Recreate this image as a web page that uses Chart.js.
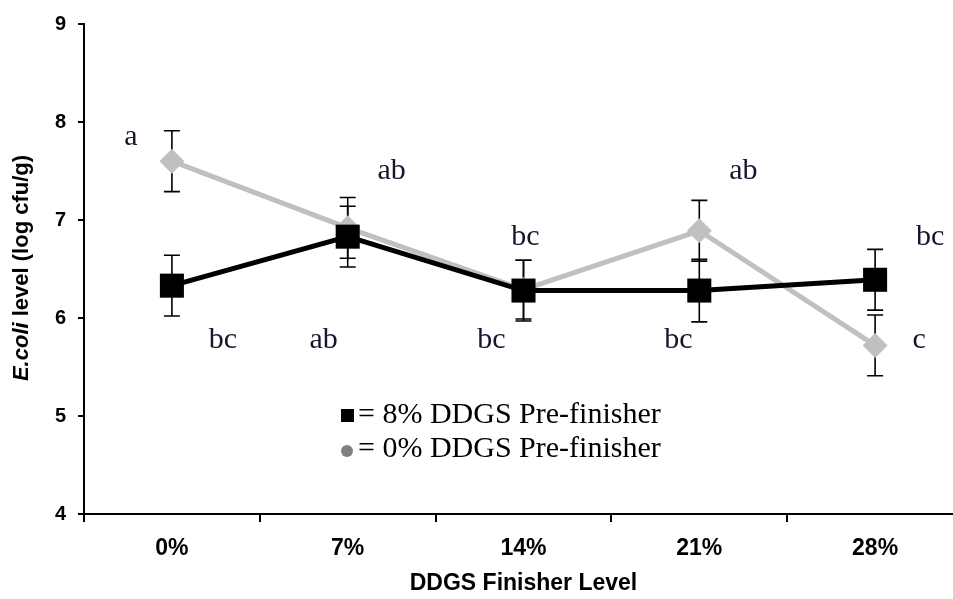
<!DOCTYPE html>
<html>
<head>
<meta charset="utf-8">
<script src="https://cdn.jsdelivr.net/npm/chart.js@4.4.1/dist/chart.umd.min.js"></script>
<style>
  html, body { margin: 0; padding: 0; background: #fff; overflow: hidden; }
  #wrap { width: 963px; height: 599px; }
</style>
</head>
<body>
<div id="wrap"><canvas id="chart" width="963" height="599"></canvas></div>
<script>
// DDGS finisher level on the x axis, E. coli counts (log cfu/g) on the y axis
const categories = ['0%', '7%', '14%', '21%', '28%'];
const yTicks = [4, 5, 6, 7, 8, 9];

// 8% DDGS pre-finisher group
const pre8Means  = [6.33, 6.83, 6.28, 6.28, 6.39];
const pre8Errors = [0.31, 0.31, 0.31, 0.32, 0.31];
const pre8Letters = ['bc', 'ab', 'bc', 'bc', 'bc'];

// 0% DDGS pre-finisher group
const pre0Means  = [7.60, 6.92, 6.29, 6.89, 5.72];
const pre0Errors = [0.31, 0.31, 0.30, 0.31, 0.31];
const pre0Letters = ['a', 'ab', 'bc', 'ab', 'c'];

const SANS = "'Liberation Sans', Arial, sans-serif";
const SERIF = "'Liberation Serif', 'Times New Roman', serif";
const LETTER_COLOR = '#15152e';

// where each significance letter sits: horizontal shift in px from the category centre, and height in axis units
const pre8LetterPos = [[51, 5.77], [-24, 5.77], [-32, 5.77], [-21, 5.77], [55, 6.83]];
const pre0LetterPos = [[-41, 7.85], [44, 7.50], [2, 6.83], [44, 7.50], [44, 5.77]];

const errorBarPlugin = {
  id: 'errorBars',
  beforeDatasetsDraw(chart) {
    const { ctx, scales: { x, y } } = chart;
    const groups = [[pre8Means, pre8Errors], [pre0Means, pre0Errors]];
    ctx.save();
    ctx.strokeStyle = '#000';
    ctx.lineWidth = 1.6;
    const cap = 8;
    groups.forEach(([means, errs]) => {
      means.forEach((m, i) => {
        const px = x.getPixelForValue(i);
        const top = y.getPixelForValue(m + errs[i]);
        const bot = y.getPixelForValue(m - errs[i]);
        ctx.beginPath();
        ctx.moveTo(px, top); ctx.lineTo(px, bot);
        ctx.moveTo(px - cap, top); ctx.lineTo(px + cap, top);
        ctx.moveTo(px - cap, bot); ctx.lineTo(px + cap, bot);
        ctx.stroke();
      });
    });
    ctx.restore();
  }
};

const annotationPlugin = {
  id: 'annotations',
  afterDraw(chart) {
    const { ctx, scales: { x, y } } = chart;
    ctx.save();
    // significance letters
    ctx.font = `30px ${SERIF}`;
    ctx.fillStyle = LETTER_COLOR;
    ctx.textAlign = 'center';
    ctx.textBaseline = 'middle';
    const put = (letters, pos) => letters.forEach((t, i) => {
      ctx.fillText(t, x.getPixelForValue(i) + pos[i][0], y.getPixelForValue(pos[i][1]));
    });
    put(pre8Letters, pre8LetterPos);
    put(pre0Letters, pre0LetterPos);

    // legend inside the plot
    ctx.textAlign = 'left';
    ctx.fillStyle = '#000';
    ctx.font = `30px ${SERIF}`;
    ctx.fillRect(341, 409, 13, 13);
    ctx.fillText('= 8% DDGS Pre-finisher', 358, 415);
    ctx.fillStyle = '#808080';
    ctx.beginPath();
    ctx.arc(347, 451, 6, 0, Math.PI * 2);
    ctx.fill();
    ctx.fillStyle = '#000';
    ctx.fillText('= 0% DDGS Pre-finisher', 358, 449);

    // y axis title with italic genus name
    ctx.translate(22, 268);
    ctx.rotate(-Math.PI / 2);
    ctx.textBaseline = 'middle';
    const italic = `italic bold 22px ${SANS}`;
    const plain = `bold 22px ${SANS}`;
    const p1 = 'E.coli', p2 = ' level (log cfu/g)';
    ctx.font = italic; const w1 = ctx.measureText(p1).width;
    ctx.font = plain; const w2 = ctx.measureText(p2).width;
    const sx = -(w1 + w2) / 2;
    ctx.font = italic; ctx.fillText(p1, sx, 0);
    ctx.font = plain; ctx.fillText(p2, sx + w1, 0);
    ctx.restore();
  }
};

new Chart(document.getElementById('chart'), {
  type: 'line',
  data: {
    labels: categories,
    datasets: [
      {
        label: '8% DDGS Pre-finisher',
        data: pre8Means,
        borderColor: '#000',
        backgroundColor: '#000',
        borderWidth: 5,
        pointStyle: 'rect',
        pointRadius: 17,
        pointBorderWidth: 0,
        pointBackgroundColor: '#000',
        tension: 0
      },
      {
        label: '0% DDGS Pre-finisher',
        data: pre0Means,
        borderColor: '#c0c0c0',
        backgroundColor: '#c0c0c0',
        borderWidth: 5,
        pointStyle: 'rectRot',
        pointRadius: 12.5,
        pointBorderWidth: 0,
        pointBackgroundColor: '#c0c0c0',
        tension: 0
      }
    ]
  },
  options: {
    responsive: false,
    animation: false,
    devicePixelRatio: 1,
    layout: { autoPadding: false, padding: { top: 22, left: 0, right: 0, bottom: 0 } },
    plugins: { legend: { display: false }, tooltip: { enabled: false } },
    scales: {
      x: {
        type: 'category',
        offset: true,
        grid: { display: true, drawOnChartArea: false, drawTicks: true, tickLength: 8, color: '#000', lineWidth: 2, offset: true },
        border: { display: true, color: '#000', width: 2 },
        ticks: { color: '#000', font: { family: SANS, size: 23, weight: 'bold' }, padding: 13, maxRotation: 0 },
        title: { display: true, text: 'DDGS Finisher Level', color: '#000', font: { family: SANS, size: 23, weight: 'bold' }, padding: { top: 0, bottom: 2 } },
        afterFit(scale) { scale.height = 85; }
      },
      y: {
        min: 4,
        max: 9,
        afterBuildTicks(scale) { scale.ticks = yTicks.map(v => ({ value: v })); },
        grid: { display: true, drawOnChartArea: false, drawTicks: true, tickLength: 6, color: '#000', lineWidth: 2 },
        border: { display: true, color: '#000', width: 2 },
        ticks: { color: '#000', font: { family: SANS, size: 20, weight: 'bold' }, padding: 12 },
        afterFit(scale) { scale.width = 84; }
      }
    }
  },
  plugins: [errorBarPlugin, annotationPlugin]
});
</script>
</body>
</html>
